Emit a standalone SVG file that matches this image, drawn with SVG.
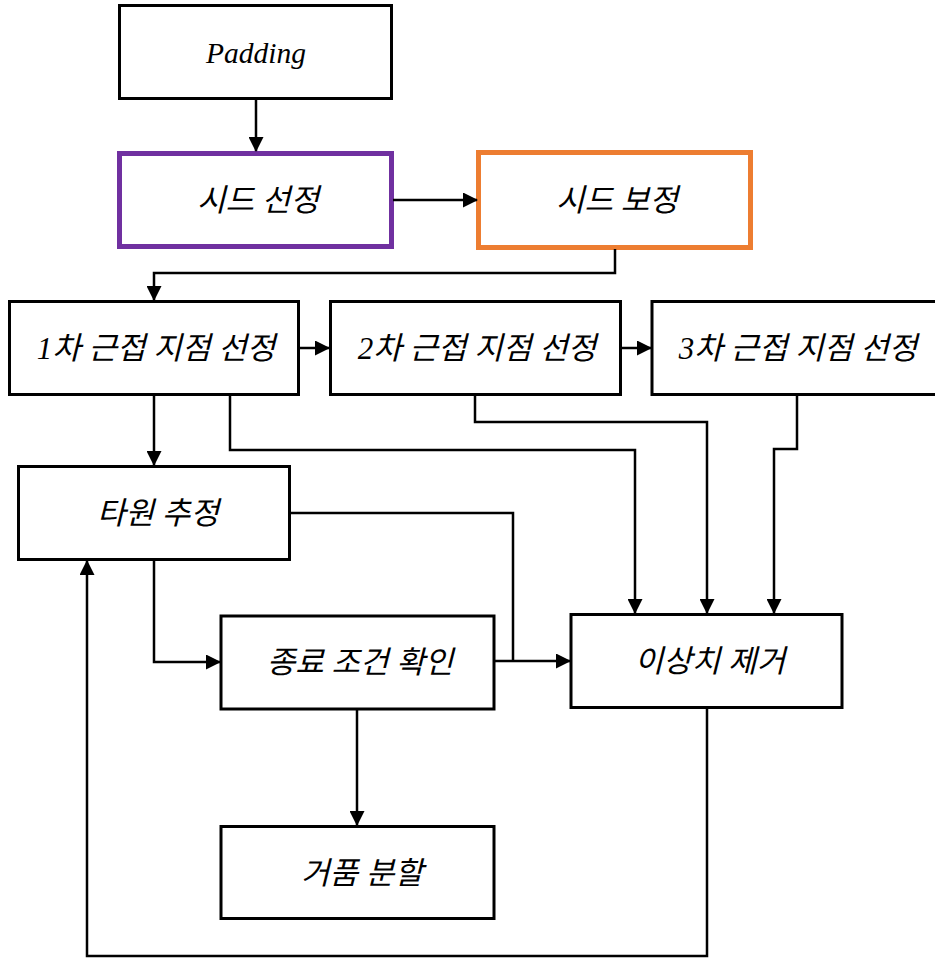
<svg xmlns="http://www.w3.org/2000/svg" width="935" height="958" viewBox="0 0 935 958">
<style>
.box{fill:#fff;stroke:#000;stroke-width:3}
.purple{fill:#fff;stroke:#7030A0;stroke-width:5}
.orange{fill:#fff;stroke:#ED7D31;stroke-width:5}
.lbl{font-family:"Liberation Serif","Noto Sans CJK KR",serif;font-style:italic;font-size:31px;text-anchor:middle;fill:#000}
.lat{font-size:29.5px}
.con{fill:none;stroke:#000;stroke-width:2.5;marker-end:url(#arr)}
.con0{fill:none;stroke:#000;stroke-width:2.5}
</style>
<defs>
<marker id="arr" markerUnits="userSpaceOnUse" markerWidth="15" markerHeight="15" viewBox="0 0 15 15" refX="14" refY="7.5" orient="auto">
<path d="M0,0 L15,7.5 L0,15 z" fill="#000"/>
</marker>
</defs>
<rect width="935" height="958" fill="#fff"/>
<g id="padding"><rect class="box" x="119.5" y="5.5" width="272" height="93"/><text class="lbl lat" x="256" y="63">Padding</text></g>
<g id="seed-select"><rect class="purple" x="119.5" y="153.5" width="272" height="93"/><text class="lbl" x="258" y="211">시드 선정</text></g>
<g id="seed-correct"><rect class="orange" x="478.5" y="152.5" width="272" height="95"/><text class="lbl" x="617" y="211">시드 보정</text></g>
<g id="near1"><rect class="box" x="9.5" y="301.5" width="289" height="93"/><text class="lbl" x="156" y="359">1차 근접 지점 선정</text></g>
<g id="near2"><rect class="box" x="330.5" y="301.5" width="290" height="93"/><text class="lbl" x="477" y="359">2차 근접 지점 선정</text></g>
<g id="near3"><rect class="box" x="652" y="301.5" width="290" height="93"/><text class="lbl" x="798" y="359">3차 근접 지점 선정</text></g>
<g id="ellipse"><rect class="box" x="18.5" y="466.5" width="271" height="93"/><text class="lbl" x="158" y="524">타원 추정</text></g>
<g id="outlier"><rect class="box" x="571" y="614.5" width="271" height="93"/><text class="lbl" x="710" y="672">이상치 제거</text></g>
<g id="terminate"><rect class="box" x="221" y="616" width="273" height="93"/><text class="lbl" x="360" y="673">종료 조건 확인</text></g>
<g id="bubble"><rect class="box" x="221" y="826.5" width="273" height="92"/><text class="lbl" x="362" y="884">거품 분할</text></g>
<g id="connectors">
<path class="con" d="M256,99 V151"/>
<path class="con" d="M393,200 H477"/>
<path class="con" d="M615,249 V273 H154 V300"/>
<path class="con" d="M299,348 H329"/>
<path class="con" d="M621,348 H651"/>
<path class="con" d="M154,395 V465"/>
<path class="con" d="M230,395 V450 H635 V613"/>
<path class="con" d="M475,395 V422 H707 V613"/>
<path class="con" d="M797,395 V449 H774 V613"/>
<path class="con0" d="M290,513 H513 V661"/>
<path class="con" d="M154,560 V662 H220"/>
<path class="con" d="M494,661 H570"/>
<path class="con" d="M357,709 V825"/>
<path class="con" d="M707,708 V956 H87 V561"/>
</g>
</svg>
